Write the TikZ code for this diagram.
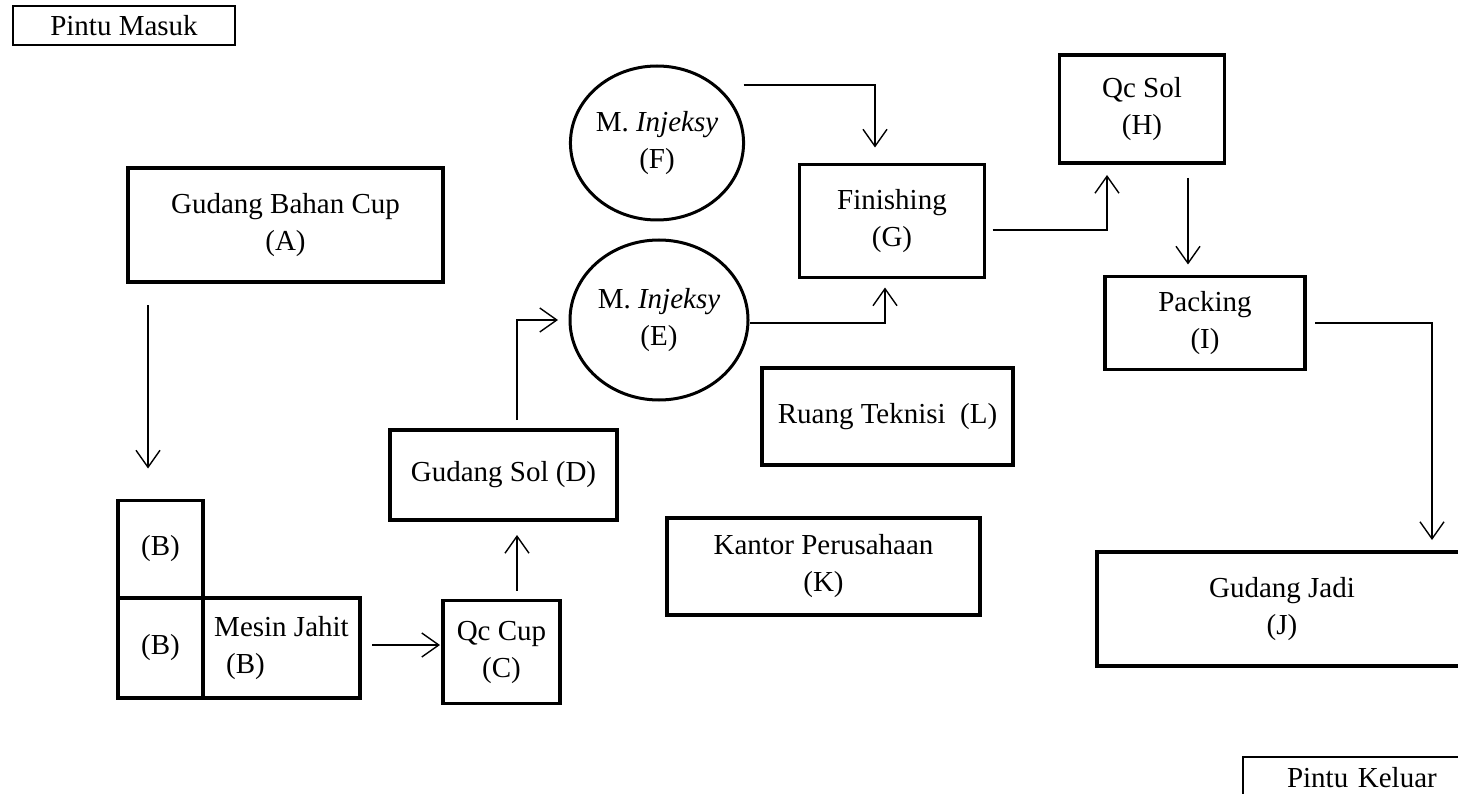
\documentclass[tikz,border=0pt]{standalone}
\usepackage{fontspec}
\setmainfont{Liberation Serif}
\usetikzlibrary{positioning, calc, shapes.geometric, arrows.meta}
\tikzset{
	roomnode/.style={
			rectangle,
			draw=black,
			line width=3.2pt,
			fill=white,
			align=center,
			inner sep=0pt,
			outer sep=0pt
		},
	machinenode/.style={
			ellipse,
			draw=black,
			line width=3pt,
			fill=white,
			align=center,
			inner sep=0pt,
			outer sep=0pt
		},
	gatenode/.style={
			roomnode,
			line width=2.8pt
		},
	flowline/.style={
			line width=1.4pt,
			-{Straight Barb[length=17pt, width=24pt]}
		}
}

\begin{document}
\begin{tikzpicture}[x=1pt, y=-1pt, font=\fontsize{29pt}{37pt}\selectfont]
\useasboundingbox (0,0) rectangle (1458,794);
\clip (0,0) rectangle (1458,794);

\node[gatenode, minimum width=222pt, minimum height=39pt] (rIn) at (124,25.5) {Pintu Masuk};
\node[roomnode, minimum width=315pt, minimum height=114pt] (rA) at (285.5,225) {Gudang Bahan Cup\\(A)};
\node[roomnode, minimum width=85pt, minimum height=97pt] (rB1) at (160.5,549) {(B)};
\node[roomnode, minimum width=85pt, minimum height=100pt] (rB2) at (160.5,648) {(B)};
\node[roomnode, minimum width=157pt, minimum height=100pt, align=left] (rB) at (281.5,648) {Mesin Jahit\\\hspace*{12pt}(B)};
\node[roomnode, minimum width=117pt, minimum height=103pt] (rC) at (501.5,652) {Qc Cup\\(C)};
\node[roomnode, minimum width=227pt, minimum height=90pt] (rD) at (503.5,475) {Gudang Sol (D)};
\node[machinenode, minimum width=178pt, minimum height=160pt] (rE) at (659,320) {M. \textit{Injeksy}\\(E)};
\node[machinenode, minimum width=166pt, minimum height=154pt] (rF) at (657,143) {M. \textit{Injeksy}\\(F)};
\node[roomnode, minimum width=185pt, minimum height=113pt] (rG) at (892,221) {Finishing\\(G)};
\node[roomnode, minimum width=165pt, minimum height=108pt] (rH) at (1142,109) {Qc Sol\\(H)};
\node[roomnode, minimum width=200pt, minimum height=93pt] (rI) at (1205,323) {Packing\\(I)};
\node[roomnode, minimum width=370pt, minimum height=114pt] (rJ) at (1282,609) {Gudang Jadi\\(J)};
\node[roomnode, minimum width=313pt, minimum height=97pt] (rK) at (823.5,566.5) {Kantor Perusahaan\\(K)};
\node[roomnode, minimum width=251pt, minimum height=97pt] (rL) at (887.5,416.5) {Ruang Teknisi~ (L)};
\node[gatenode, anchor=west, text width=180pt, align=left, inner xsep=44pt, minimum height=42pt] (rOut) at (1243,778) {Pintu Keluar};

\draw[flowline, shorten <=23pt, shorten >=32pt] ($(rA.south)+(-137.5,0)$) -- ($(rB1.north)+(-12.5,0)$);
\draw[flowline, shorten <=12pt, shorten >=3pt] ($(rB.east)+(0,-3)$) -- ($(rC.west)+(0,-7)$);
\draw[flowline, shorten <=10pt, shorten >=15pt] ($(rC.north)+(15.5,0)$) -- ($(rD.south)+(13.5,0)$);
\draw[flowline, shorten <=10pt, shorten >=12pt] ($(rD.north)+(13.5,0)$) |- (rE.west);
\draw[flowline, shorten >=17pt] ([yshift=58pt]rF.east) -| ($(rG.north)+(-17,0)$);
\draw[flowline, shorten <=2pt, shorten >=10pt] ([yshift=-3pt]rE.east) -| ($(rG.south)+(-7,0)$);
\draw[flowline, shorten <=8pt, shorten >=12pt] ([yshift=-9pt]rG.east) -| ($(rH.south)+(-35,0)$);
\draw[flowline, shorten <=15pt, shorten >=12pt] ($(rH.south)+(46,0)$) -- ($(rI.north)+(-17,0)$);
\draw[flowline, shorten <=10pt, shorten >=12pt] (rI.east) -| ($(rJ.north)+(150,0)$);

\end{tikzpicture}
\end{document}
